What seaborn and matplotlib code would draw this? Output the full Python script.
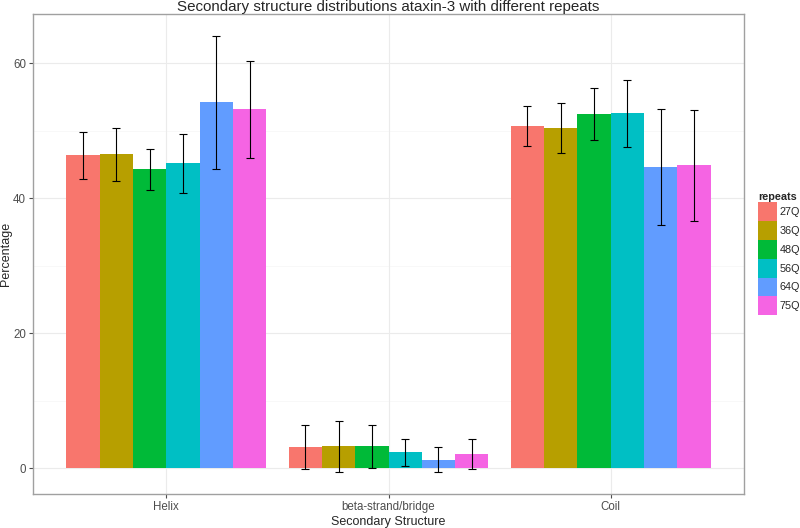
import numpy as np
import pandas as pd
import matplotlib
matplotlib.use('Agg')
import matplotlib.pyplot as plt
import seaborn as sns

# values
structures = ['Helix', 'beta-strand/bridge', 'Coil']
repeats = ['27Q', '36Q', '48Q', '56Q', '64Q', '75Q']
helix = [46.4, 46.5, 44.3, 45.2, 54.2, 53.2]
helix_sd = [3.5, 3.9, 3.05, 4.35, 9.9, 7.15]
beta = [3.2, 3.3, 3.3, 2.4, 1.3, 2.1]
beta_sd = [3.3, 3.75, 3.2, 2.0, 1.85, 2.2]
coil = [50.7, 50.4, 52.5, 52.6, 44.7, 44.9]
coil_sd = [2.95, 3.7, 3.8, 5.0, 8.6, 8.25]
colors = ['#F8766D', '#B79F00', '#00BA38', '#00BFC4', '#619CFF', '#F564E3']

rows = []
for s, vals, sds in zip(structures, [helix, beta, coil], [helix_sd, beta_sd, coil_sd]):
    for r, v, e in zip(repeats, vals, sds):
        rows.append({'structure': s, 'repeats': r, 'pct': v, 'sd': e})
df = pd.DataFrame(rows)

sns.set_style('white')
plt.rcParams['font.family'] = ['Liberation Sans', 'DejaVu Sans']

fig = plt.figure(figsize=(8, 5.28), dpi=100)
ax = fig.add_axes([33 / 800, 34 / 528, 711 / 800, 480 / 528])

# grid first (theme_bw look)
for y in [10, 30, 50]:
    ax.axhline(y, color='#F7F7F7', lw=0.6, zorder=0)
for y in [0, 20, 40, 60]:
    ax.axhline(y, color='#EBEBEB', lw=0.8, zorder=0)
for x in range(3):
    ax.axvline(x, color='#EBEBEB', lw=0.8, zorder=0)

sns.barplot(data=df, x='structure', y='pct', hue='repeats', order=structures,
            hue_order=repeats, palette=colors, width=0.9, gap=0, errorbar=None,
            saturation=1, linewidth=0, ax=ax, zorder=2)

# error bars at bar centres
for cont, r in zip(ax.containers, repeats):
    sub = df[df['repeats'] == r].set_index('structure').loc[structures]
    xs = [p.get_x() + p.get_width() / 2 for p in cont.patches]
    ax.errorbar(xs, sub['pct'].values, yerr=sub['sd'].values, fmt='none',
                ecolor='black', elinewidth=0.8, capsize=2.6, capthick=0.8, zorder=3)

ax.set_xlim(-0.6, 2.6)
ax.set_ylim(-3.78, 67.3)
ax.set_yticks([0, 20, 40, 60])
ax.tick_params(axis='both', length=3, width=0.8, color='#4D4D4D',
               labelcolor='#4D4D4D', labelsize=8.3, pad=2, direction='out',
               bottom=True, left=True)
for sp in ax.spines.values():
    sp.set_color('#A0A0A0')
    sp.set_linewidth(1.0)

ax.set_xlabel('Secondary Structure', fontsize=9, labelpad=2)
ax.set_ylabel('Percentage', fontsize=9, labelpad=1)
ax.set_title('Secondary structure distributions ataxin-3 with different repeats',
             fontsize=10.9, pad=2)

sns.move_legend(ax, 'upper left', bbox_to_anchor=(756 / 800, 1 - 190 / 528),
                bbox_transform=fig.transFigure, frameon=False, title='repeats',
                fontsize=7.8, title_fontsize=7.8, handlelength=1.75,
                handleheight=2.3, labelspacing=0, handletextpad=0.2,
                borderpad=0.2, borderaxespad=0, alignment='left')
leg = ax.get_legend()
leg.get_title().set_fontweight('bold')

fig.savefig('out.png', dpi=100)
